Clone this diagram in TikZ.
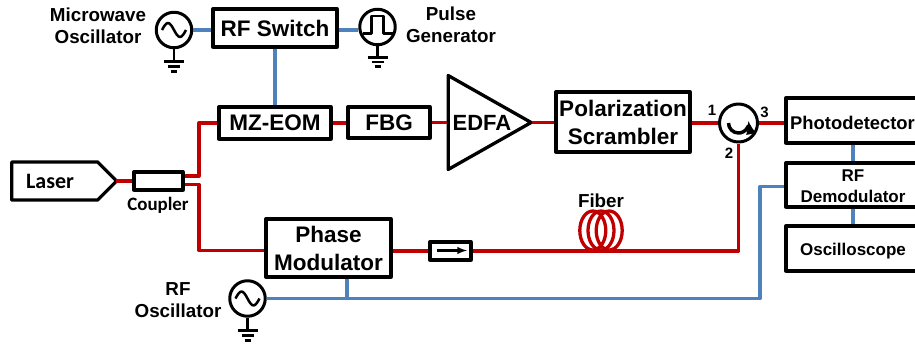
\documentclass[tikz,border=0pt]{standalone}
\usepackage{fontspec}
\usepackage{tikz}
\usetikzlibrary{shapes.geometric,shapes.symbols}
\setmainfont{Liberation Sans}
\newfontfamily\carlitofont{Carlito}
\definecolor{fiberred}{HTML}{C00000}
\definecolor{rfblue}{HTML}{4F81BD}

\begin{document}
\begin{tikzpicture}[x=1pt,y=-1pt,line join=round]
        \tikzstyle{unit}=[draw,shape=rectangle,line width=3.3pt,inner sep=0pt,align=center]
        \tikzstyle{big}=[font=\fontsize{22.5}{28}\selectfont\bfseries,align=center,inner sep=0pt]
        \tikzstyle{mid}=[font=\fontsize{18.8}{22}\selectfont\bfseries,align=center,inner sep=0pt]
        \tikzstyle{small}=[font=\fontsize{17}{21}\selectfont\bfseries,align=center,inner sep=0pt]
        \tikzstyle{port}=[font=\fontsize{15}{15}\selectfont\bfseries,inner sep=0pt]
        \tikzstyle{source}=[draw,shape=circle,line width=3pt,minimum size=35.5pt,inner sep=0pt]
        \tikzstyle{redline}=[draw=fiberred,line width=3.3pt]
        \tikzstyle{blueline}=[draw=rfblue,line width=3.7pt]
        \tikzstyle{thin}=[line width=2.5pt]

        \useasboundingbox (0,0) rectangle (915,343);

        % sources and their grounds
        \node[source](mwosc) at (174,30){};
        \node[mid] at (98,26){Microwave\\Oscillator};
        \draw[thin] (162,30) sin (168,23) cos (174,30) sin (180,37) cos (186,30);
        \draw[thin] (mwosc.south) -- (174,61);
        \draw[thin] (164,61.5) -- (184,61.5);
        \draw[thin] (168,66.5) -- (180,66.5);
        \draw[thin] (171,71.5) -- (177,71.5);

        \node[source](pulse) at (377.5,27){};
        \node[mid] at (451,25){Pulse\\Generator};
        \draw[thin] (362.5,33.5) -- (371.5,33.5) -- (371.5,16) -- (383.5,16) -- (383.5,33.5) -- (393,33.5);
        \draw[thin] (pulse.south) -- (377.5,57);
        \draw[thin] (367.5,57.5) -- (387.5,57.5);
        \draw[thin] (371.5,62) -- (383.5,62);
        \draw[thin] (374.5,66.5) -- (380.5,66.5);

        \node[source](rfosc) at (247.5,298.5){};
        \node[mid] at (178,300){RF\\Oscillator};
        \draw[thin] (235.5,298.5) sin (241.5,291.5) cos (247.5,298.5) sin (253.5,305.5) cos (259.5,298.5);
        \draw[thin] (rfosc.south) -- (247.5,330);
        \draw[thin] (237.5,330.5) -- (257.5,330.5);
        \draw[thin] (241.5,335.5) -- (253.5,335.5);
        \draw[thin] (244.5,340.5) -- (250.5,340.5);

        % boxes
        \node[unit,minimum width=124pt,minimum height=38pt,big](switch) at (275,28){RF Switch};
        \node[unit,minimum width=112pt,minimum height=32pt,big](mzeom) at (275,123){MZ-EOM};
        \node[unit,minimum width=82pt,minimum height=31pt,big](fbg) at (389,122.5){FBG};
        \node[draw,line width=3.3pt,isosceles triangle,isosceles triangle stretches,minimum width=94pt,minimum height=83pt,inner sep=0pt,anchor=lower side](edfa) at (446.5,122.5){};
        \node[big,font=\fontsize{22}{28}\selectfont\bfseries] (edfatext) at (482,122.7){EDFA};
        \node[unit,minimum width=134pt,minimum height=60pt,big](scrambler) at (623,122){Polarization\\Scrambler};
        \node[source,minimum size=38pt](circ) at (738.5,123){};
        \draw[line width=3.5pt,-latex] (728.5,123) arc[start angle=180,end angle=372,radius=10pt];
        \node[port] at (712,110){1};
        \node[port] at (729,153){2};
        \node[port] at (764.5,112){3};

        \node[unit,minimum width=134pt,minimum height=45pt](pd) at (853,120.5){};
        \node[inner sep=0pt,font=\fontsize{18.4}{24}\selectfont\bfseries] (pdtext) at (852.5,123){Photodetector};
        \node[unit,minimum width=134pt,minimum height=44pt](demod) at (853,185){};
        \node[small] (demodtext) at (853,186){RF\\Demodulator};
        \node[unit,minimum width=134pt,minimum height=45pt](scope) at (853,248.5){};
        \node[small] (scopetext) at (853,251){Oscilloscope};

        \node[shape=signal,signal to=east,draw,line width=3.3pt,minimum width=105pt,minimum height=38pt,inner sep=0pt,anchor=west](laser) at (10,181){};
        \node[inner sep=0pt,font=\carlitofont\fontsize{22}{22}\selectfont\bfseries] (lasertext) at (50,181){Laser};
        \node[unit,minimum width=49pt,minimum height=18pt](coupler) at (158.5,181){};
        \node[inner sep=0pt,font=\carlitofont\fontsize{18.9}{20}\selectfont\bfseries] (couplertext) at (158,205){Coupler};

        \node[unit,minimum width=125pt,minimum height=58pt,big](pmod) at (328.5,248){Phase\\Modulator};
        \node[unit,minimum width=41pt,minimum height=18pt](iso) at (450.5,251){};
        \draw[line width=2.3pt,-latex] (437,250.5) -- (467,250.5);

        % fiber coil
        \draw[redline] (592.8,230.5) ellipse (13pt and 19.5pt);
        \draw[redline] (601,230.5) ellipse (13pt and 19.5pt);
        \draw[redline] (609.2,230.5) ellipse (13pt and 19.5pt);
        \node[mid] (fibertext) at (601,201){Fiber};

        % red fiber paths
        \coordinate (bendup) at (199,123);
        \coordinate (benddown) at (199,250.5);
        \draw[redline] ([xshift=-3pt]laser.east) -- (coupler.west);
        \draw[redline] ([yshift=5pt]coupler.east) -| (bendup) -- (mzeom.west);
        \draw[redline] ([yshift=-3.5pt]coupler.east) -| (benddown) -- (benddown -| pmod.west);
        \draw[redline] (mzeom.east) -- (mzeom.east -| fbg.west);
        \draw[redline] (fbg.east) -- (edfa.lower side);
        \draw[redline] ([xshift=-3pt]edfa.apex) -- (edfa.apex -| scrambler.west);
        \draw[redline] (circ.west -| scrambler.east) -- (circ.west);
        \draw[redline] (circ.east) -- (circ.east -| pd.west);
        \draw[redline] (iso.west -| pmod.east) -- (iso.west);
        \draw[redline] (iso.east) -| (circ.south);

        % blue rf paths
        \coordinate (bendrf) at (760,186.5);
        \coordinate (tap) at (347,298.5);
        \draw[blueline] (mwosc.east) -- (mwosc.east -| switch.west);
        \draw[blueline] (mwosc.east -| switch.east) -- (mwosc.east -| pulse.west);
        \draw[blueline] (switch.south) -- (switch.south |- mzeom.north);
        \draw[blueline] (rfosc.east) -- (tap) -- (tap -| bendrf) -- (bendrf) -- (bendrf -| demod.west);
        \draw[blueline] (tap |- pmod.south) -- (tap);
        \draw[blueline] (pd.south) -- (demod.north);
        \draw[blueline] (demod.south) -- (scope.north);

    \end{tikzpicture}
\end{document}
